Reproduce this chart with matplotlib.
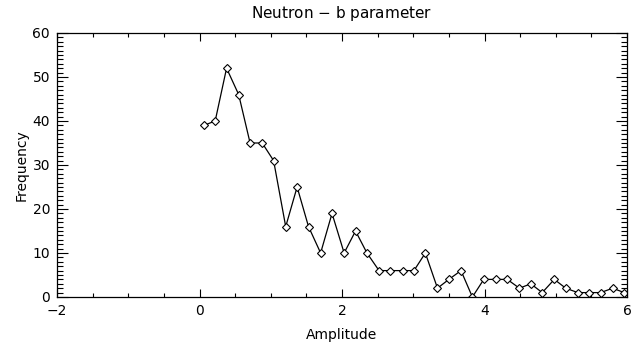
import numpy as np
import matplotlib.pyplot as plt
from matplotlib.ticker import MultipleLocator

# Bin centres (amplitude) and counts
amplitude = [0.06, 0.22, 0.38, 0.55, 0.71, 0.88, 1.04, 1.21, 1.37, 1.53,
             1.70, 1.86, 2.03, 2.19, 2.35, 2.52, 2.68, 2.85, 3.01, 3.17,
             3.34, 3.50, 3.67, 3.83, 3.99, 4.16, 4.32, 4.49, 4.65, 4.81,
             4.98, 5.14, 5.31, 5.47, 5.63, 5.80, 5.96]
frequency = [39, 40, 52, 46, 35, 35, 31, 16, 25, 16,
             10, 19, 10, 15, 10, 6, 6, 6, 6, 10,
             2, 4, 6, 0, 4, 4, 4, 2, 3, 1,
             4, 2, 1, 1, 1, 2, 1]

fig = plt.figure(figsize=(6.39, 3.45), dpi=100)
ax = fig.add_axes([57/639, 48/345, 570/639, 264/345])

ax.plot(amplitude, frequency, color="black", linewidth=0.9,
        marker="D", markersize=3.8, markerfacecolor="white",
        markeredgecolor="black", markeredgewidth=0.8)

ax.set_xlim(-2, 6)
ax.set_ylim(0, 60)
ax.xaxis.set_major_locator(MultipleLocator(2))
ax.xaxis.set_minor_locator(MultipleLocator(0.5))
ax.yaxis.set_major_locator(MultipleLocator(10))
ax.yaxis.set_minor_locator(MultipleLocator(1))
ax.tick_params(which="both", direction="in", top=True, right=True,
               labelsize=10, width=0.8, pad=5)
ax.tick_params(axis="x", which="major", length=6)
ax.tick_params(axis="x", which="minor", length=3)
ax.tick_params(axis="y", which="major", length=8)
ax.tick_params(axis="y", which="minor", length=4)
for s in ax.spines.values():
    s.set_linewidth(0.9)

ax.set_title("Neutron $-$ b parameter", fontsize=11, pad=11)
ax.set_xlabel("Amplitude", fontsize=10, labelpad=7)
ax.set_ylabel("Frequency", fontsize=10, labelpad=3)

plt.savefig("out.png", dpi=100)
